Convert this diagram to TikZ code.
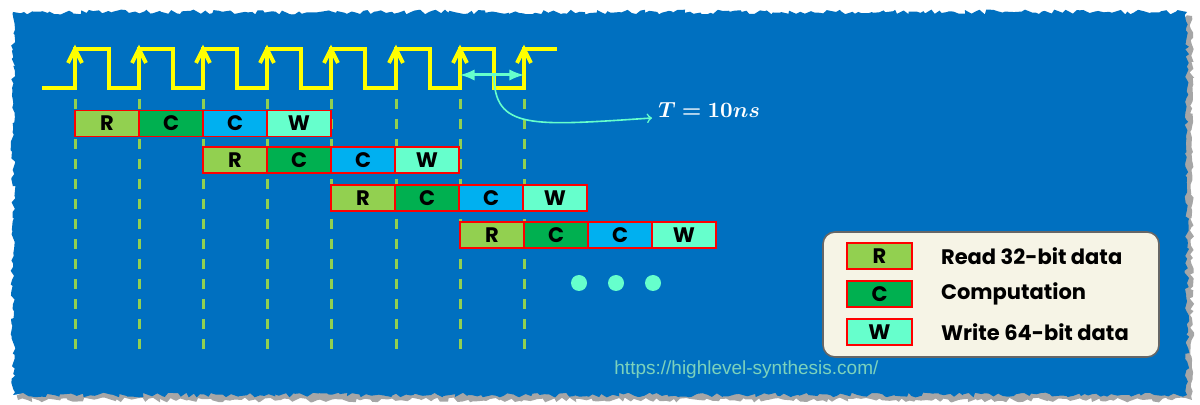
\documentclass[tikz,border=0pt]{standalone}
\usepackage{fontspec}
\usepackage{amsmath}
\usepackage{bm}
\usetikzlibrary{arrows, positioning, decorations.pathmorphing}
\newfontfamily\gothfont{Poppins}
\newfontfamily\linkfont{Liberation Sans}

\definecolor{bgblue}{HTML}{0070C0}
\definecolor{clkyellow}{HTML}{FFFF00}
\definecolor{rdgreen}{HTML}{92D050}
\definecolor{cpgreen}{HTML}{00B050}
\definecolor{cpblue}{HTML}{00B0F0}
\definecolor{wraqua}{HTML}{66FFCC}
\definecolor{legbg}{HTML}{F6F4E6}
\definecolor{urlmint}{HTML}{7CD2BC}

\tikzset{
  stage/.style={draw=red, line width=0.8pt, rectangle, minimum height=13pt, minimum width=32pt, inner sep=0pt, outer sep=0pt, font=\gothfont\bfseries\fontsize{10.5}{12}\selectfont},
  rstage/.style={stage, fill=rdgreen},
  cstage/.style={stage, fill=cpgreen},
  pstage/.style={stage, fill=cpblue},
  wstage/.style={stage, fill=wraqua},
  legtext/.style={font=\gothfont\bfseries\fontsize{10.5}{12}\selectfont, right=11pt of #1},
}

\begin{document}
\begin{tikzpicture}[x=0.5pt, y=-0.5pt]
            \useasboundingbox (0,0) rectangle (1200,405);
            \pgfmathsetseed{12}
            % torn paper background
            \fill[black!35, decorate, decoration={random steps, segment length=2pt, amplitude=1.2pt}] (18,16) rectangle (1192,400);
            \fill[bgblue, decorate, decoration={random steps, segment length=2pt, amplitude=1.2pt}] (13,12) rectangle (1187,395);
            % clock edges
            \foreach \x in {75,139,203,267,331,396,460,524}
                \draw[rdgreen, line width=1.5pt, dash pattern=on 5pt off 5pt] (\x,99) -- (\x,355);
            \draw[clkyellow, line width=2pt] (42,88) \foreach \x in {75,139,203,267,331,396,460} {-- (\x,88) -- (\x,49) -- (\x+34,49) -- (\x+34,88)} -- (524,88) -- (524,49) -- (557,49);
            \foreach \x in {75,139,203,267,331,396,460,524}
                \draw[clkyellow, line width=2pt] (\x-7,63) -- (\x,49) -- (\x+7,63);
            % period
            \coordinate (tp0) at (460,75);
            \coordinate (tp1) at (524,75);
            \coordinate (tmid) at (494,75);
            \draw[wraqua, line width=1.5pt, latex-latex] (tp0) -- (tp1);
            \node[text=white, font=\fontsize{11}{13}\selectfont, anchor=base west, inner sep=3pt] (tlab) at (652,118) {$\boldsymbol{T = 10ns}$};
            \draw[wraqua, line width=0.8pt, ->] (tmid) .. controls +(0,55) and +(-120,8) .. (tlab.base west);
            % pipeline
            \node[rstage] (r1) at (107,123.5) {R};
            \node[cstage, right=0pt of r1] (c1) {C};
            \node[pstage, right=0pt of c1] (p1) {C};
            \node[wstage, right=0pt of p1] (w1) {W};
            \node[rstage] (r2) at (235,160) {R};
            \node[cstage, right=0pt of r2] (c2) {C};
            \node[pstage, right=0pt of c2] (p2) {C};
            \node[wstage, right=0pt of p2] (w2) {W};
            \node[rstage] (r3) at (363,198) {R};
            \node[cstage, right=0pt of r3] (c3) {C};
            \node[pstage, right=0pt of c3] (p3) {C};
            \node[wstage, right=0pt of p3] (w3) {W};
            \node[rstage] (r4) at (492,235) {R};
            \node[cstage, right=0pt of r4] (c4) {C};
            \node[pstage, right=0pt of c4] (p4) {C};
            \node[wstage, right=0pt of p4] (w4) {W};
            \foreach \x in {579,616,653}
                \fill[wraqua] (\x,283) circle (4pt);
            % legend
            \node[draw=black!60, fill=legbg, rounded corners=6pt, line width=0.8pt, minimum width=168pt, minimum height=62.5pt] (legend) at (991,294.5) {};
            \node[rstage, minimum width=32.5pt] (lr) at (879.5,256) {R};
            \node[cstage, minimum width=32.5pt, below=6pt of lr] (lc) {C};
            \node[wstage, minimum width=32.5pt, below=6pt of lc] (lw) {W};
            \node[legtext=lr] (lrt) {Read 32-bit data};
            \node[legtext=lc] (lct) {Computation};
            \node[legtext=lw] (lwt) {Write 64-bit data};
            \node[text=urlmint, font=\linkfont\fontsize{9.5}{11}\selectfont, anchor=west, inner sep=0pt] (url) at (614,370) {https://highlevel-synthesis.com/};
        \end{tikzpicture}
\end{document}
